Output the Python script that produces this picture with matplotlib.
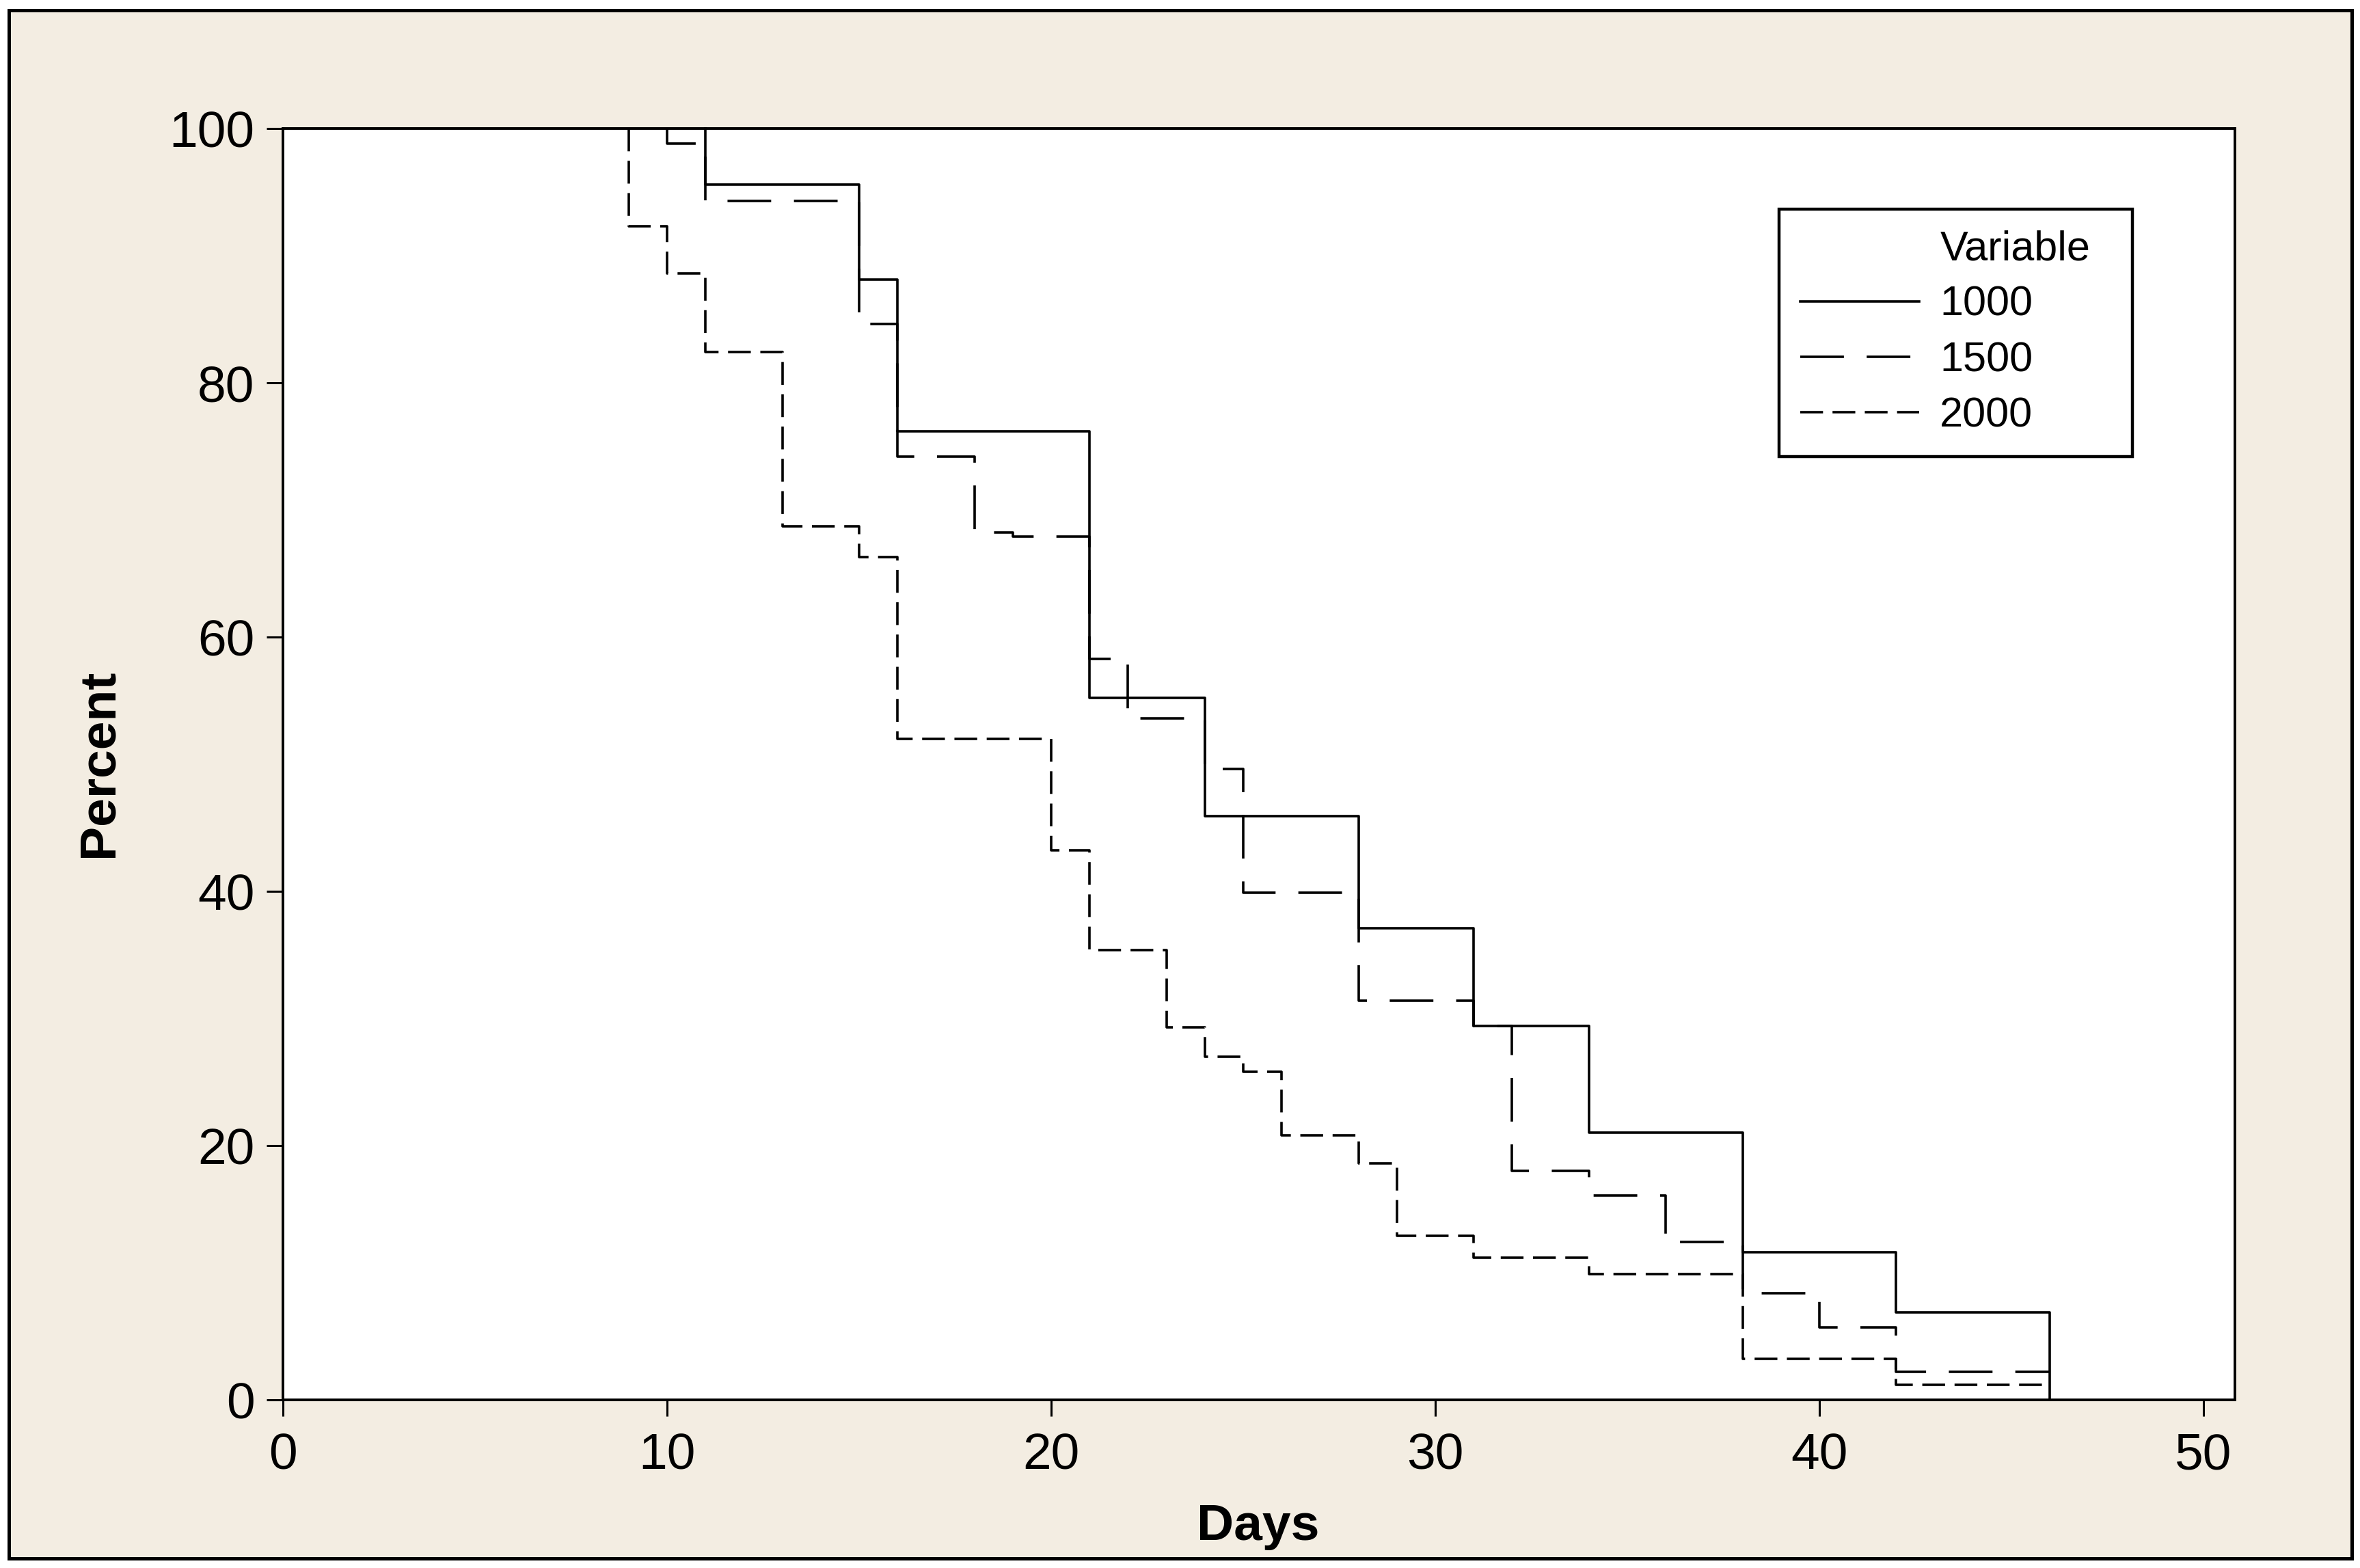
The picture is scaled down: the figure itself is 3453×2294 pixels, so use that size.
import matplotlib
matplotlib.use("Agg")
import matplotlib.pyplot as plt
from matplotlib.lines import Line2D
from matplotlib.patches import Rectangle

plt.rcParams['font.family'] = ['Liberation Sans', 'DejaVu Sans']
plt.rcParams['lines.scale_dashes'] = False

# ---- data ----
days_1000 = [11, 15, 16, 21, 24, 28, 31, 34, 38, 42, 46]
pct_1000 = [95.6, 88.1, 76.2, 55.2, 45.9, 37.1, 29.4, 21.0, 11.6, 6.9, 0.0]
end_1000 = None

days_1500 = [10, 11, 15, 16, 18, 19, 21, 22, 24, 25, 28, 31, 32, 34, 36, 38, 40, 42]
pct_1500 = [98.8, 94.3, 84.6, 74.2, 68.2, 67.9, 58.3, 53.6, 49.6, 39.9, 31.4, 29.4,
            18.0, 16.1, 12.4, 8.4, 5.7, 2.2]
end_1500 = 46

days_2000 = [9, 10, 11, 13, 15, 16, 20, 21, 23, 24, 25, 26, 28, 29, 31, 34, 38, 42]
pct_2000 = [92.3, 88.6, 82.4, 68.7, 66.3, 52.0, 43.2, 35.4, 29.3, 27.0, 25.8, 20.8,
            18.6, 12.9, 11.2, 9.9, 3.2, 1.2]
end_2000 = 46

series_names = ["1000", "1500", "2000"]
x_ticks = [0, 10, 20, 30, 40, 50]
y_ticks = [0, 20, 40, 60, 80, 100]
x_label = "Days"
y_label = "Percent"
legend_title = "Variable"

# ---- figure ----
W, H = 3453, 2294
DPI = 100
fig = plt.figure(figsize=(W / DPI, H / DPI), dpi=DPI, facecolor="white")

BG = "#F3EDE2"
frame = Rectangle((13 / W, 1 - 2280 / H), (3441 - 13) / W, (2280 - 15) / H,
                  transform=fig.transFigure, facecolor=BG, edgecolor="black",
                  linewidth=3.6, zorder=-10)
fig.add_artist(frame)

L, R, T, B = 414, 3270, 188, 2048
ax = fig.add_axes([L / W, 1 - B / H, (R - L) / W, (B - T) / H])
ax.set_facecolor("white")
ax.set_zorder(1)


def step_xy(days, pct, end=None):
    x = [days[0]] + list(days)
    y = [100.0] + list(pct)
    if end is not None:
        x.append(end)
        y.append(pct[-1])
    return x, y


LW = 2.6
styles = [
    dict(linestyle="-"),
    dict(dashes=(46, 24)),
    dict(dashes=(24, 10)),
]
handles = []
for days, pct, end, st, name in [
    (days_1000, pct_1000, end_1000, styles[0], series_names[0]),
    (days_1500, pct_1500, end_1500, styles[1], series_names[1]),
    (days_2000, pct_2000, end_2000, styles[2], series_names[2]),
]:
    x, y = step_xy(days, pct, end)
    ln, = ax.plot(x, y, drawstyle="steps-post", color="black", linewidth=LW,
                  clip_on=False, label=name, **st)
    handles.append(ln)

ax.set_xlim(0, 50.82)
ax.set_ylim(0, 100)
ax.set_xticks(x_ticks)
ax.set_yticks(y_ticks)
ax.set_xticklabels([str(v) for v in x_ticks])
ax.set_yticklabels([str(v) for v in y_ticks])

for s in ax.spines.values():
    s.set_linewidth(2.8)
    s.set_color("black")

ax.tick_params(axis="both", direction="out", length=17, width=2.2, labelsize=54,
               top=False, right=False, colors="black")
ax.tick_params(axis="x", pad=17)
ax.tick_params(axis="y", pad=13)

fig.text(1841 / W, 1 - 2253 / H, x_label, fontsize=54, fontweight="bold",
         ha="center", va="baseline")
fig.text(165 / W, 1 - 1116 / H, y_label, fontsize=54, fontweight="bold",
         ha="center", va="baseline", rotation=90, rotation_mode="anchor")

# legend
blank = Line2D([], [], color="none")
lx0 = (2603 - L) / (R - L)
lx1 = (3120 - L) / (R - L)
ly1 = (B - 306) / (B - T)
ly0 = (B - 665) / (B - T)
leg = ax.legend([blank] + handles, [legend_title] + series_names,
                loc="upper left", bbox_to_anchor=(lx0, ly0, lx1 - lx0, ly1 - ly0),
                mode="expand", borderaxespad=0, fontsize=44, handlelength=2.85,
                handletextpad=0.5, labelspacing=0.4, borderpad=0.5,
                fancybox=False, shadow=False, framealpha=1, edgecolor="black")
leg.get_frame().set_linewidth(3.2)

fig.savefig("out.png", dpi=DPI, facecolor="white")
